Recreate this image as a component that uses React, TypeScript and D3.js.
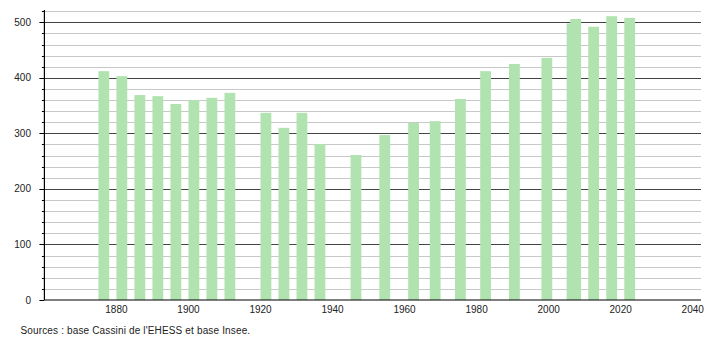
import React from "react";
import * as d3 from "d3";

const years = [1876, 1881, 1886, 1891, 1896, 1901, 1906, 1911, 1921, 1926, 1931, 1936, 1946, 1954, 1962, 1968, 1975, 1982, 1990, 1999, 2006, 2007, 2012, 2017, 2022];
const population = [412, 403, 369, 367, 353, 360, 364, 373, 337, 310, 337, 281, 261, 297, 319, 322, 362, 412, 425, 436, 498, 506, 492, 511, 508];
const xTicks = [1880, 1900, 1920, 1940, 1960, 1980, 2000, 2020, 2040];
const yMajorTicks = [0, 100, 200, 300, 400, 500];
const yMinorTicks = d3.range(0, 521, 20);
const sourceText = "Sources : base Cassini de l'EHESS et base Insee.";

const W = 710;
const H = 340;

export default function App() {
  const x = d3.scaleLinear().domain([1860, 2042.3]).range([44.4, 701]);
  const y = d3.scaleLinear().domain([0, 500]).range([300, 22.3]);
  const left = x(1860);
  const right = x(2042.3);
  const font = "'Liberation Sans', Arial, sans-serif";

  return (
    <svg
      width={W}
      height={H}
      style={{ position: "absolute", left: 0, top: 0, background: "#fff" }}
      fontFamily={font}
    >
      <rect x={0} y={0} width={W} height={H} fill="#fff" />
      {yMinorTicks.filter((v) => v % 100 !== 0).map((v) => (
        <line key={"g" + v} x1={left} x2={right} y1={Math.round(y(v)) + 0.5} y2={Math.round(y(v)) + 0.5} stroke="#c8c8c8" strokeWidth={1} />
      ))}
      {yMajorTicks.filter((v) => v > 0).map((v) => (
        <line key={"G" + v} x1={left} x2={right} y1={Math.round(y(v)) + 0.5} y2={Math.round(y(v)) + 0.5} stroke="#444" strokeWidth={1} />
      ))}
      {years.map((yr, i) => (
        <rect
          key={yr}
          x={x(yr - 1)}
          width={x(yr + 2) - x(yr - 1)}
          y={y(population[i])}
          height={y(0) - y(population[i])}
          fill="#b0e3b0"
        />
      ))}
      <line x1={left} x2={left} y1={y(522)} y2={y(0)} stroke="#000" strokeWidth={1.2} />
      <line x1={left} x2={right} y1={y(0)} y2={y(0)} stroke="#000" strokeWidth={1.2} />
      {yMinorTicks.map((v) => (
        <line
          key={"t" + v}
          x1={v % 100 === 0 ? left - 5 : left - 2.5}
          x2={left}
          y1={Math.round(y(v)) + 0.5}
          y2={Math.round(y(v)) + 0.5}
          stroke="#000"
          strokeWidth={1}
        />
      ))}
      {yMajorTicks.map((v) => (
        <text key={"yl" + v} x={31} y={y(v)} dy="0.35em" textAnchor="end" fontSize={10} fill="#222">
          {v}
        </text>
      ))}
      {xTicks.map((t) => (
        <text key={"xl" + t} x={x(t)} y={313} textAnchor="middle" fontSize={10} fill="#222">
          {t}
        </text>
      ))}
      <text x={20.5} y={333.5} fontSize={10} fill="#222" letterSpacing={0.15}>
        {sourceText}
      </text>
    </svg>
  );
}
